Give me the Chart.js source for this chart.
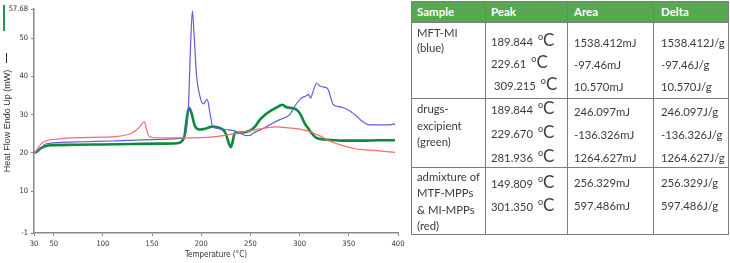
<!DOCTYPE html>
<html>
<head>
<meta charset="utf-8">
<script src="https://cdn.jsdelivr.net/npm/chart.js@4.4.0/dist/chart.umd.min.js"></script>
<style>
html, body { margin: 0; padding: 0; background: #fff; }
#wrap { position: relative; width: 730px; height: 263px; overflow: hidden; }
#dsc { position: absolute; left: 0; top: 0; width: 730px; height: 263px; }
#tbl { position: absolute; left: 0; top: 0; font-family: Lato, "Open Sans", sans-serif; font-size: 11.3px; color: #3b3b3b; }
.cell { position: absolute; box-sizing: border-box; white-space: nowrap; overflow: hidden; }
.inner { position: relative; }
.hd { background: #55a84f; color: #fff; font-weight: bold; font-size: 11.5px; }
.big { font-size: 17px; line-height: 0; }
.sup { font-size: 9px; line-height: 0; position: relative; top: -6px; margin-left: 2px; }
</style>
</head>
<body>
<div id="wrap">
  <canvas id="dsc" width="730" height="263"></canvas>
  <div id="tbl"></div>
</div>
<script>
// DSC curves, temperature (°C) vs heat flow (mW)
const blueT = [30, 33, 37, 41, 46, 55, 80, 110, 140, 160, 175, 182, 185, 187, 189, 191, 192.6, 195.3, 198.7, 202, 206, 208.9, 211.6, 219, 227.5, 233, 239, 246, 250, 253, 260, 266.5, 273, 280, 290, 295, 302, 306, 309, 311, 313, 317.3, 320.6, 325, 329, 331, 334.2, 338, 344.4, 349, 353, 358, 363, 367, 371.5, 380, 390, 397];
const blueV = [20.0, 20.3, 21.3, 22.2, 22.5, 22.7, 22.9, 23.1, 23.4, 23.5, 23.7, 23.9, 26, 32.2, 47, 57.2, 51.5, 40, 34.8, 32.8, 34, 30.4, 26.9, 26.3, 26, 25.8, 25.2, 24.5, 24.6, 25.2, 26, 26.9, 27.8, 28.7, 30, 32.2, 34.4, 34.8, 35.3, 34.3, 35.5, 38.3, 37.5, 37.2, 36.6, 35, 32.6, 32.2, 31.8, 31.3, 30.6, 29.6, 28.4, 27.7, 27.3, 27.3, 27.3, 27.6];

const redT = [30, 33, 37, 43, 50, 60, 80, 100, 115, 122, 128, 134, 138, 142, 144, 146, 149, 155, 170, 190, 210, 222, 235, 250, 263, 276, 290, 300, 307, 314, 320, 327, 334, 344, 354, 366, 381, 397];
const redV = [20, 20.8, 22.3, 23.2, 23.5, 23.8, 24.0, 24.1, 24.3, 24.6, 25.0, 26, 27, 28.2, 26.5, 24.8, 24.1, 23.9, 23.9, 23.9, 24.1, 24.5, 25.1, 25.8, 26.4, 26.8, 26.5, 26.2, 25.8, 25.2, 24.5, 23.6, 22.7, 21.9, 21.2, 20.8, 20.5, 20.1];

const greenT = [30, 33, 37, 42, 48, 70, 100, 130, 160, 175, 180, 183, 185, 187.5, 190, 193.6, 198.7, 205, 212, 219, 222.4, 225, 228, 230, 232, 234, 241, 249.5, 255, 259.7, 265, 269.8, 276, 282.7, 286, 290, 297, 301, 305, 309, 312, 317, 322, 330, 345, 364, 380, 397];
const greenV = [20, 20.3, 21.2, 21.8, 22.0, 22.1, 22.2, 22.3, 22.4, 22.5, 23.0, 24.5, 28.5, 31.8, 30.5, 27, 26.1, 26.4, 26.9, 26.5, 26, 25, 22.5, 21.5, 23, 25.2, 25.3, 25.8, 27, 28.7, 30, 30.9, 31.8, 32.6, 32, 31.8, 31.3, 30, 27.8, 26.3, 25.2, 23.9, 23.6, 23.4, 23.2, 23.2, 23.3, 23.3];

const xTicks = [30, 50, 100, 150, 200, 250, 300, 350, 400];
const yTicks = [-1, 10, 20, 30, 40, 50, 57.68];

// table text
const tableHeader = ['Sample', 'Peak', 'Area', 'Delta'];
const sampleNames = [['MFT-MI', '(blue)'], ['drugs-', 'excipient', '(green)'], ['admixture of', 'MTF-MPPs', '& MI-MPPs', '(red)']];
const peakTemps = [['189.844', '229.61', '\u00a0309.215'], ['189.844', '229.670', '281.936'], ['149.809', '301.350']];
const areas = [['1538.412mJ', '-97.46mJ', '10.570mJ'], ['246.097mJ', '-136.326mJ', '1264.627mJ'], ['256.329mJ', '597.486mJ']];
const deltas = [['1538.412J/g', '-97.46J/g', '10.570J/g'], ['246.097J/g', '-136.326J/g', '1264.627J/g'], ['256.329J/g', '597.486J/g']];

function pts(t, v) {
    return t.map((x, i) => ({ x: x, y: v[i] }));
}

// little legend marks next to the y title
const sideMarks = {
    id: 'sideMarks',
    afterDraw(chart) {
        const c = chart.ctx;
        c.save();
        c.fillStyle = '#1f9a4a';
        c.fillRect(3, 5, 2, 26);
        c.strokeStyle = '#333';
        c.lineWidth = 1;
        c.beginPath();
        c.moveTo(6.5, 53);
        c.lineTo(6.5, 63);
        c.stroke();
        c.restore();
    }
};

const tickFont = { family: '"Liberation Sans Narrow", "DejaVu Sans Condensed", "Liberation Sans"', size: 7.5 };

new Chart(document.getElementById('dsc'), {
    type: 'line',
    data: {
        datasets: [
            { data: pts(redT, redV), borderColor: '#f26d6d', borderWidth: 1.2 },
            { data: pts(blueT, blueV), borderColor: '#5f5fd6', borderWidth: 1.2 },
            { data: pts(greenT, greenV), borderColor: '#0e8a3c', borderWidth: 2.6 }
        ]
    },
    options: {
        responsive: false,
        animation: false,
        devicePixelRatio: 1,
        layout: { padding: { top: 9, right: 332, left: 0, bottom: 0 } },
        elements: { point: { radius: 0 }, line: { cubicInterpolationMode: 'monotone' } },
        plugins: { legend: { display: false }, tooltip: { enabled: false } },
        scales: {
            x: {
                type: 'linear',
                min: 30,
                max: 400,
                afterBuildTicks: s => { s.ticks = xTicks.map(v => ({ value: v })); },
                afterFit: s => { s.height = 30; },
                ticks: { font: tickFont, color: '#333', padding: 4, maxRotation: 0, autoSkip: false },
                grid: { display: true, drawOnChartArea: false, drawTicks: true, tickLength: 3, color: '#888' },
                border: { color: '#888', width: 1.5 },
                title: {
                    display: true, text: 'Temperature (\u00b0C)', color: '#333',
                    font: { family: '"Liberation Sans Narrow", "DejaVu Sans Condensed", "Liberation Sans"', size: 8 },
                    padding: { top: 0, bottom: 3 }
                }
            },
            y: {
                min: -1,
                max: 57.68,
                afterBuildTicks: s => { s.ticks = yTicks.map(v => ({ value: v })); },
                afterFit: s => { s.width = 34; },
                ticks: { font: tickFont, color: '#333', padding: 3, callback: v => String(v) },
                grid: { display: true, drawOnChartArea: false, drawTicks: true, tickLength: 3, color: '#888' },
                border: { color: '#888', width: 1.5 },
                title: {
                    display: true, text: 'Heat Flow Endo Up (mW)', color: '#333',
                    font: { family: '"Liberation Sans", Arial', size: 9 },
                    padding: { top: 2, bottom: 0 }
                }
            }
        }
    },
    plugins: [sideMarks]
});

// table
const colX = [411, 485, 567, 653, 728];
const rowY = [1, 22, 98, 167, 234];
const padX = [5, 5, 6, 7];
// per body row: [top offset, line height] for sample / peak / area+delta columns
const rowFmt = [
    [[2, 15], [8, 22], [9, 22]],
    [[2, 16.5], [-1, 24], [1, 23]],
    [[1, 16.3], [4, 23], [3, 23]]
];

const tbl = document.getElementById('tbl');
function cell(ci, ri, html, cls, off, lh) {
    const d = document.createElement('div');
    d.className = 'cell' + (cls ? ' ' + cls : '');
    d.style.left = colX[ci] + 'px';
    d.style.top = rowY[ri] + 'px';
    d.style.width = (colX[ci + 1] - colX[ci] + 1) + 'px';
    d.style.height = (rowY[ri + 1] - rowY[ri] + 1) + 'px';
    d.style.border = '1px solid #7d7d7d';
    d.style.paddingLeft = padX[ci] + 'px';
    const inner = document.createElement('div');
    inner.className = 'inner';
    inner.style.top = off + 'px';
    inner.style.lineHeight = lh + 'px';
    inner.innerHTML = html;
    d.appendChild(inner);
    tbl.appendChild(d);
}
tableHeader.forEach((h, ci) => cell(ci, 0, h, 'hd', 1, 17));
sampleNames.forEach((rows, r) => {
    const f = rowFmt[r];
    cell(0, r + 1, rows.map(t => '<div>' + t + '</div>').join(''), '', f[0][0], f[0][1]);
    cell(1, r + 1, peakTemps[r].map(t => '<div>' + t + ' <span class="sup">o</span><span class="big">C</span></div>').join(''), '', f[1][0], f[1][1]);
    cell(2, r + 1, areas[r].map(t => '<div>' + t + '</div>').join(''), '', f[2][0], f[2][1]);
    cell(3, r + 1, deltas[r].map(t => '<div>' + t + '</div>').join(''), '', f[2][0], f[2][1]);
});
</script>
</body>
</html>
